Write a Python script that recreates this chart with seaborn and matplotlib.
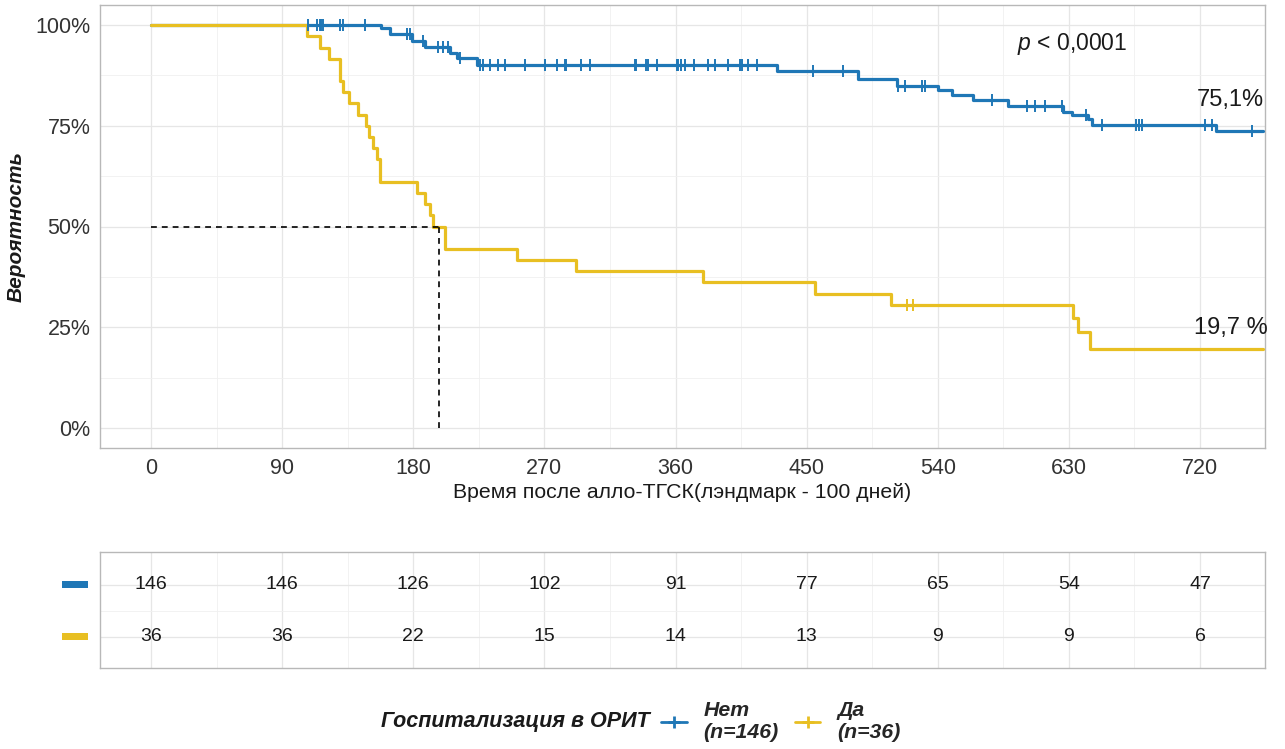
import numpy as np
import pandas as pd
import matplotlib
matplotlib.use("Agg")
import matplotlib.pyplot as plt
from matplotlib.lines import Line2D
from matplotlib.patches import Rectangle
from matplotlib.transforms import blended_transform_factory
from matplotlib.ticker import MultipleLocator, FixedLocator, FuncFormatter
import seaborn as sns

# ---- Kaplan-Meier step data (time in days, survival probability) ----
no_icu_times = [0, 158, 164, 179, 188, 205, 210, 224, 430, 485, 512, 540, 549.5,
                564.5, 588, 626, 632, 643, 646, 731]
no_icu_surv = [1.0, 0.992, 0.978, 0.960, 0.946, 0.932, 0.918, 0.900, 0.886, 0.866,
               0.849, 0.839, 0.826, 0.814, 0.800, 0.785, 0.777, 0.767, 0.751, 0.738]
no_icu_censor = [108, 114, 116, 117, 118, 130, 132, 147, 175.5, 178, 187, 197, 200.5,
                 204, 212, 226, 228, 233, 238.5, 243, 257, 270.5, 279, 284, 285, 295,
                 301, 332, 333, 340, 341, 347, 361, 362, 364, 366.5, 373, 382, 387,
                 396, 404, 405.5, 410, 416, 454.5, 475, 513, 517.5, 529, 531, 577,
                 601, 607, 613.6, 625, 642, 653, 676, 678, 680, 723.4, 728, 756]
no_icu_end = 763

icu_times = [0, 107, 116, 122, 130, 132, 136, 142, 147.6, 149.8, 152.6, 154.9, 157.2,
             182.4, 188, 191.5, 193.8, 201.8, 251, 292, 379, 456, 508, 633, 636.5, 644.5]
icu_surv = [1.0, 0.972, 0.944, 0.917, 0.861, 0.833, 0.806, 0.778, 0.750, 0.722, 0.694,
            0.667, 0.611, 0.583, 0.556, 0.528, 0.500, 0.444, 0.417, 0.389, 0.361,
            0.333, 0.306, 0.272, 0.238, 0.197]
icu_censor = [519, 523]
icu_end = 763

# ---- number at risk table ----
risk_times = [0, 90, 180, 270, 360, 450, 540, 630, 720]
risk_no_icu = [146, 146, 126, 102, 91, 77, 65, 54, 47]
risk_icu = [36, 36, 22, 15, 14, 13, 9, 9, 6]

group_labels = ["Нет\n(n=146)", "Да\n(n=36)"]
colors = ["#1F77B6", "#E8BF22"]

end_labels = ["75,1%", "19,7 %"]
p_label = "$p$ < 0,0001"

sns.set_theme(style="whitegrid")
plt.rcParams["font.family"] = ["Liberation Sans", "DejaVu Sans"]
plt.rcParams["mathtext.fontset"] = "custom"
plt.rcParams["mathtext.it"] = "Liberation Sans:italic"
plt.rcParams["mathtext.rm"] = "Liberation Sans"

W, H = 1285, 749
fig = plt.figure(figsize=(W / 100, H / 100), dpi=100)
fig.patch.set_facecolor("white")


def fig_rect(left, top, right, bottom):
    return [left / W, 1 - bottom / H, (right - left) / W, (bottom - top) / H]


ax = fig.add_axes(fig_rect(100, 5, 1265, 448))
tab = fig.add_axes(fig_rect(100, 552, 1265, 668))

XMIN, XMAX = -35, 764.6


def step_frame(times, surv, end):
    return pd.DataFrame({"time": list(times) + [end], "surv": list(surv) + [surv[-1]]})


def surv_at(times, surv, t):
    idx = np.searchsorted(np.asarray(times), np.asarray(t), side="right") - 1
    return np.asarray(surv)[idx]


groups = [
    (no_icu_times, no_icu_surv, no_icu_censor, no_icu_end, colors[0]),
    (icu_times, icu_surv, icu_censor, icu_end, colors[1]),
]

for times, surv, cens, end, col in groups:
    df = step_frame(times, surv, end)
    sns.lineplot(data=df, x="time", y="surv", ax=ax, color=col, lw=2.3,
                 drawstyle="steps-post", estimator=None, sort=False, zorder=3)
    cdf = pd.DataFrame({"time": cens, "surv": surv_at(times, surv, cens)})
    sns.scatterplot(data=cdf, x="time", y="surv", ax=ax, marker="|", s=80,
                    color=col, linewidth=1.4, zorder=4)

# median survival of the ICU group (midpoint when the curve sits exactly at 0.5)
t_arr, s_arr = np.asarray(icu_times), np.asarray(icu_surv)
i_med = int(np.argmax(s_arr <= 0.5))
median_t = t_arr[i_med]
if np.isclose(s_arr[i_med], 0.5) and i_med + 1 < len(t_arr):
    median_t = (t_arr[i_med] + t_arr[i_med + 1]) / 2
ax.plot([0, median_t], [0.5, 0.5], ls=(0, (3.5, 3)), color="black", lw=1.2, zorder=5)
ax.plot([median_t, median_t], [0, 0.5], ls=(0, (3.5, 3)), color="black", lw=1.2, zorder=5)

# annotations
ax.text(632, 0.953, p_label, ha="center", va="center", fontsize=16.5, color="#1a1a1a")
ax.text(741, 0.814, end_labels[0], ha="center", va="center", fontsize=17, color="#1a1a1a")
ax.text(741, 0.248, end_labels[1], ha="center", va="center", fontsize=17, color="#1a1a1a")

grid_major = dict(color="#E6E6E6", lw=0.9)
grid_minor = dict(color="#F0F0F0", lw=0.6)

ax.set_xlim(XMIN, XMAX)
ax.set_ylim(-0.05, 1.05)
ax.xaxis.set_major_locator(FixedLocator(risk_times))
ax.xaxis.set_minor_locator(MultipleLocator(45))
ax.yaxis.set_major_locator(FixedLocator([0, 0.25, 0.5, 0.75, 1.0]))
ax.yaxis.set_minor_locator(MultipleLocator(0.125))
ax.yaxis.set_major_formatter(FuncFormatter(lambda v, _: f"{v * 100:.0f}%"))
ax.grid(which="major", **grid_major)
ax.grid(which="minor", **grid_minor)
ax.tick_params(which="major", length=4, width=0.9, color="#333333",
               labelsize=15.5, labelcolor="#333333", pad=3)
ax.tick_params(which="minor", length=0)
ax.set_xlabel("Время после алло-ТГСК(лэндмарк - 100 дней)", fontsize=15.3,
              color="#1a1a1a", labelpad=3)
ax.set_ylabel("Вероятность", fontsize=15, fontweight="bold", fontstyle="italic",
              color="#1a1a1a", labelpad=7)
for sp in ax.spines.values():
    sp.set_color("#B8B8B8")
    sp.set_linewidth(1.0)
ax.set_axisbelow(True)

# ---- risk table ----
tab.set_xlim(XMIN, XMAX)
tab.set_ylim(0.4, 2.63)
rows = [2, 1]
for row, counts in zip(rows, [risk_no_icu, risk_icu]):
    for t, n in zip(risk_times, counts):
        tab.text(t, row, str(n), ha="center", va="center", fontsize=14, color="#1a1a1a")
tab.xaxis.set_major_locator(FixedLocator(risk_times))
tab.xaxis.set_minor_locator(MultipleLocator(45))
tab.yaxis.set_major_locator(FixedLocator(rows))
tab.yaxis.set_minor_locator(FixedLocator([1.5]))
tab.set_xticklabels([])
tab.set_yticklabels([])
tab.tick_params(which="both", length=0)
tab.grid(which="major", **grid_major)
tab.grid(which="minor", **grid_minor)
tab.set_xlabel("")
tab.set_ylabel("")
for sp in tab.spines.values():
    sp.set_color("#B8B8B8")
    sp.set_linewidth(1.0)
trans = blended_transform_factory(tab.transAxes, tab.transData)
for row, col in zip(rows, colors):
    tab.add_patch(Rectangle((-38 / 1165, row - 0.065), 26 / 1165, 0.13,
                            transform=trans, clip_on=False, facecolor=col,
                            edgecolor="none"))

# ---- legend ----
fig.text(650 / W, 1 - 722 / H, "Госпитализация в ОРИТ", ha="right", va="center",
         fontsize=15.5, fontweight="bold", fontstyle="italic", color="#1a1a1a")
handles = [Line2D([], [], color=c, lw=2, marker="+", markersize=9, mew=2) for c in colors]
fig.legend(handles, group_labels, loc="center left", bbox_to_anchor=(642 / W, 1 - 722 / H),
           ncol=2, frameon=False, handlelength=1.2, handletextpad=0.8, columnspacing=0.75,
           prop={"weight": "bold", "style": "italic", "size": 15.3}, labelspacing=0.2)

fig.savefig("out.png", dpi=100, facecolor="white")
